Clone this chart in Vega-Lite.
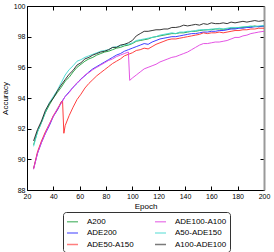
{
  "$schema": "https://vega.github.io/schema/vega-lite/v6.json",
  "width": 237,
  "height": 184,
  "autosize": "none",
  "padding": {"left": 27, "top": 6, "right": 10, "bottom": 62},
  "config": {
    "view": {"stroke": null},
    "font": "Liberation Sans",
    "axis": {"labelFont": "Liberation Sans", "titleFont": "Liberation Sans", "labelFontSize": 7, "titleFontSize": 8, "titleFontWeight": "normal", "labelColor": "#000", "titleColor": "#000", "domainColor": "#000", "tickColor": "#000", "grid": false, "tickSize": -4, "labelPadding": 6, "labelFlush": false, "labelOverlap": false}
  },
  "data": {"values": [
    {"series":"A200","epoch":25,"acc":90.95},{"series":"A200","epoch":28,"acc":91.8},{"series":"A200","epoch":31,"acc":92.4},{"series":"A200","epoch":34,"acc":93.05},{"series":"A200","epoch":37,"acc":93.55},{"series":"A200","epoch":40,"acc":94.0},{"series":"A200","epoch":43,"acc":94.35},{"series":"A200","epoch":46,"acc":94.7},{"series":"A200","epoch":49,"acc":95.1},{"series":"A200","epoch":52,"acc":95.35},{"series":"A200","epoch":55,"acc":95.7},{"series":"A200","epoch":58,"acc":96.0},{"series":"A200","epoch":61,"acc":96.2},{"series":"A200","epoch":64,"acc":96.4},{"series":"A200","epoch":67,"acc":96.55},{"series":"A200","epoch":70,"acc":96.65},{"series":"A200","epoch":73,"acc":96.8},{"series":"A200","epoch":76,"acc":96.9},{"series":"A200","epoch":79,"acc":97.0},{"series":"A200","epoch":82,"acc":97.05},{"series":"A200","epoch":85,"acc":97.15},{"series":"A200","epoch":88,"acc":97.25},{"series":"A200","epoch":91,"acc":97.3},{"series":"A200","epoch":94,"acc":97.4},{"series":"A200","epoch":97,"acc":97.45},{"series":"A200","epoch":100,"acc":97.55},{"series":"A200","epoch":103,"acc":97.7},{"series":"A200","epoch":106,"acc":97.75},{"series":"A200","epoch":109,"acc":97.8},{"series":"A200","epoch":112,"acc":97.85},{"series":"A200","epoch":115,"acc":97.95},{"series":"A200","epoch":118,"acc":98.0},{"series":"A200","epoch":121,"acc":98.05},{"series":"A200","epoch":124,"acc":98.1},{"series":"A200","epoch":127,"acc":98.15},{"series":"A200","epoch":130,"acc":98.2},{"series":"A200","epoch":133,"acc":98.2},{"series":"A200","epoch":136,"acc":98.25},{"series":"A200","epoch":139,"acc":98.25},{"series":"A200","epoch":142,"acc":98.3},{"series":"A200","epoch":145,"acc":98.35},{"series":"A200","epoch":148,"acc":98.35},{"series":"A200","epoch":151,"acc":98.4},{"series":"A200","epoch":154,"acc":98.43},{"series":"A200","epoch":157,"acc":98.45},{"series":"A200","epoch":160,"acc":98.45},{"series":"A200","epoch":163,"acc":98.5},{"series":"A200","epoch":166,"acc":98.5},{"series":"A200","epoch":169,"acc":98.48},{"series":"A200","epoch":172,"acc":98.5},{"series":"A200","epoch":175,"acc":98.55},{"series":"A200","epoch":178,"acc":98.55},{"series":"A200","epoch":181,"acc":98.6},{"series":"A200","epoch":184,"acc":98.6},{"series":"A200","epoch":187,"acc":98.65},{"series":"A200","epoch":190,"acc":98.65},{"series":"A200","epoch":193,"acc":98.7},{"series":"A200","epoch":196,"acc":98.65},{"series":"A200","epoch":200,"acc":98.7},
    {"series":"ADE200","epoch":25,"acc":89.4},{"series":"ADE200","epoch":28,"acc":90.4},{"series":"ADE200","epoch":31,"acc":91.1},{"series":"ADE200","epoch":34,"acc":91.7},{"series":"ADE200","epoch":37,"acc":92.2},{"series":"ADE200","epoch":40,"acc":92.8},{"series":"ADE200","epoch":43,"acc":93.2},{"series":"ADE200","epoch":46,"acc":93.7},{"series":"ADE200","epoch":49,"acc":94.1},{"series":"ADE200","epoch":52,"acc":94.4},{"series":"ADE200","epoch":55,"acc":94.7},{"series":"ADE200","epoch":58,"acc":94.95},{"series":"ADE200","epoch":61,"acc":95.25},{"series":"ADE200","epoch":64,"acc":95.45},{"series":"ADE200","epoch":67,"acc":95.7},{"series":"ADE200","epoch":70,"acc":95.9},{"series":"ADE200","epoch":73,"acc":96.05},{"series":"ADE200","epoch":76,"acc":96.2},{"series":"ADE200","epoch":79,"acc":96.35},{"series":"ADE200","epoch":82,"acc":96.5},{"series":"ADE200","epoch":85,"acc":96.65},{"series":"ADE200","epoch":88,"acc":96.8},{"series":"ADE200","epoch":91,"acc":96.9},{"series":"ADE200","epoch":94,"acc":97.05},{"series":"ADE200","epoch":97,"acc":97.15},{"series":"ADE200","epoch":100,"acc":97.25},{"series":"ADE200","epoch":103,"acc":97.35},{"series":"ADE200","epoch":106,"acc":97.45},{"series":"ADE200","epoch":109,"acc":97.55},{"series":"ADE200","epoch":112,"acc":97.5},{"series":"ADE200","epoch":115,"acc":97.65},{"series":"ADE200","epoch":118,"acc":97.75},{"series":"ADE200","epoch":121,"acc":97.85},{"series":"ADE200","epoch":124,"acc":97.9},{"series":"ADE200","epoch":127,"acc":97.95},{"series":"ADE200","epoch":130,"acc":98.0},{"series":"ADE200","epoch":133,"acc":98.0},{"series":"ADE200","epoch":136,"acc":98.05},{"series":"ADE200","epoch":139,"acc":98.1},{"series":"ADE200","epoch":142,"acc":98.15},{"series":"ADE200","epoch":145,"acc":98.2},{"series":"ADE200","epoch":148,"acc":98.2},{"series":"ADE200","epoch":151,"acc":98.25},{"series":"ADE200","epoch":154,"acc":98.3},{"series":"ADE200","epoch":157,"acc":98.3},{"series":"ADE200","epoch":160,"acc":98.35},{"series":"ADE200","epoch":163,"acc":98.35},{"series":"ADE200","epoch":166,"acc":98.4},{"series":"ADE200","epoch":169,"acc":98.4},{"series":"ADE200","epoch":172,"acc":98.45},{"series":"ADE200","epoch":175,"acc":98.5},{"series":"ADE200","epoch":178,"acc":98.5},{"series":"ADE200","epoch":181,"acc":98.55},{"series":"ADE200","epoch":184,"acc":98.55},{"series":"ADE200","epoch":187,"acc":98.6},{"series":"ADE200","epoch":190,"acc":98.6},{"series":"ADE200","epoch":193,"acc":98.65},{"series":"ADE200","epoch":196,"acc":98.65},{"series":"ADE200","epoch":200,"acc":98.7},
    {"series":"ADE50-A150","epoch":25,"acc":89.4},{"series":"ADE50-A150","epoch":28,"acc":90.5},{"series":"ADE50-A150","epoch":31,"acc":91.2},{"series":"ADE50-A150","epoch":34,"acc":91.8},{"series":"ADE50-A150","epoch":37,"acc":92.3},{"series":"ADE50-A150","epoch":40,"acc":92.85},{"series":"ADE50-A150","epoch":43,"acc":93.25},{"series":"ADE50-A150","epoch":46,"acc":93.75},{"series":"ADE50-A150","epoch":47,"acc":93.8},{"series":"ADE50-A150","epoch":48,"acc":91.7},{"series":"ADE50-A150","epoch":49,"acc":92.2},{"series":"ADE50-A150","epoch":52,"acc":92.85},{"series":"ADE50-A150","epoch":55,"acc":93.4},{"series":"ADE50-A150","epoch":58,"acc":93.9},{"series":"ADE50-A150","epoch":61,"acc":94.25},{"series":"ADE50-A150","epoch":64,"acc":94.65},{"series":"ADE50-A150","epoch":67,"acc":94.95},{"series":"ADE50-A150","epoch":70,"acc":95.2},{"series":"ADE50-A150","epoch":73,"acc":95.45},{"series":"ADE50-A150","epoch":76,"acc":95.65},{"series":"ADE50-A150","epoch":79,"acc":95.85},{"series":"ADE50-A150","epoch":82,"acc":96.05},{"series":"ADE50-A150","epoch":85,"acc":96.25},{"series":"ADE50-A150","epoch":88,"acc":96.4},{"series":"ADE50-A150","epoch":91,"acc":96.55},{"series":"ADE50-A150","epoch":94,"acc":96.75},{"series":"ADE50-A150","epoch":97,"acc":96.85},{"series":"ADE50-A150","epoch":100,"acc":96.95},{"series":"ADE50-A150","epoch":103,"acc":97.1},{"series":"ADE50-A150","epoch":106,"acc":97.15},{"series":"ADE50-A150","epoch":109,"acc":97.25},{"series":"ADE50-A150","epoch":112,"acc":97.2},{"series":"ADE50-A150","epoch":115,"acc":97.35},{"series":"ADE50-A150","epoch":118,"acc":97.5},{"series":"ADE50-A150","epoch":121,"acc":97.6},{"series":"ADE50-A150","epoch":124,"acc":97.7},{"series":"ADE50-A150","epoch":127,"acc":97.8},{"series":"ADE50-A150","epoch":130,"acc":97.85},{"series":"ADE50-A150","epoch":133,"acc":97.85},{"series":"ADE50-A150","epoch":136,"acc":97.9},{"series":"ADE50-A150","epoch":139,"acc":97.95},{"series":"ADE50-A150","epoch":142,"acc":98.0},{"series":"ADE50-A150","epoch":145,"acc":98.05},{"series":"ADE50-A150","epoch":148,"acc":98.1},{"series":"ADE50-A150","epoch":151,"acc":98.15},{"series":"ADE50-A150","epoch":154,"acc":98.25},{"series":"ADE50-A150","epoch":157,"acc":98.2},{"series":"ADE50-A150","epoch":160,"acc":98.25},{"series":"ADE50-A150","epoch":163,"acc":98.25},{"series":"ADE50-A150","epoch":166,"acc":98.3},{"series":"ADE50-A150","epoch":169,"acc":98.25},{"series":"ADE50-A150","epoch":172,"acc":98.3},{"series":"ADE50-A150","epoch":175,"acc":98.35},{"series":"ADE50-A150","epoch":178,"acc":98.4},{"series":"ADE50-A150","epoch":181,"acc":98.4},{"series":"ADE50-A150","epoch":184,"acc":98.45},{"series":"ADE50-A150","epoch":187,"acc":98.45},{"series":"ADE50-A150","epoch":190,"acc":98.5},{"series":"ADE50-A150","epoch":193,"acc":98.5},{"series":"ADE50-A150","epoch":196,"acc":98.55},{"series":"ADE50-A150","epoch":200,"acc":98.55},
    {"series":"ADE100-A100","epoch":25,"acc":89.35},{"series":"ADE100-A100","epoch":28,"acc":90.4},{"series":"ADE100-A100","epoch":31,"acc":91.1},{"series":"ADE100-A100","epoch":34,"acc":91.7},{"series":"ADE100-A100","epoch":37,"acc":92.3},{"series":"ADE100-A100","epoch":40,"acc":92.8},{"series":"ADE100-A100","epoch":43,"acc":93.3},{"series":"ADE100-A100","epoch":46,"acc":93.65},{"series":"ADE100-A100","epoch":49,"acc":94.1},{"series":"ADE100-A100","epoch":52,"acc":94.35},{"series":"ADE100-A100","epoch":55,"acc":94.7},{"series":"ADE100-A100","epoch":58,"acc":95.0},{"series":"ADE100-A100","epoch":61,"acc":95.2},{"series":"ADE100-A100","epoch":64,"acc":95.5},{"series":"ADE100-A100","epoch":67,"acc":95.65},{"series":"ADE100-A100","epoch":70,"acc":95.85},{"series":"ADE100-A100","epoch":73,"acc":96.0},{"series":"ADE100-A100","epoch":76,"acc":96.15},{"series":"ADE100-A100","epoch":79,"acc":96.3},{"series":"ADE100-A100","epoch":82,"acc":96.45},{"series":"ADE100-A100","epoch":85,"acc":96.55},{"series":"ADE100-A100","epoch":88,"acc":96.7},{"series":"ADE100-A100","epoch":91,"acc":96.8},{"series":"ADE100-A100","epoch":94,"acc":96.9},{"series":"ADE100-A100","epoch":97,"acc":97.0},{"series":"ADE100-A100","epoch":98,"acc":95.15},{"series":"ADE100-A100","epoch":100,"acc":95.3},{"series":"ADE100-A100","epoch":103,"acc":95.5},{"series":"ADE100-A100","epoch":106,"acc":95.7},{"series":"ADE100-A100","epoch":109,"acc":95.9},{"series":"ADE100-A100","epoch":112,"acc":96.0},{"series":"ADE100-A100","epoch":115,"acc":96.1},{"series":"ADE100-A100","epoch":118,"acc":96.2},{"series":"ADE100-A100","epoch":121,"acc":96.35},{"series":"ADE100-A100","epoch":124,"acc":96.45},{"series":"ADE100-A100","epoch":127,"acc":96.55},{"series":"ADE100-A100","epoch":130,"acc":96.65},{"series":"ADE100-A100","epoch":133,"acc":96.7},{"series":"ADE100-A100","epoch":136,"acc":96.8},{"series":"ADE100-A100","epoch":139,"acc":96.9},{"series":"ADE100-A100","epoch":142,"acc":97.0},{"series":"ADE100-A100","epoch":145,"acc":97.15},{"series":"ADE100-A100","epoch":148,"acc":97.3},{"series":"ADE100-A100","epoch":151,"acc":97.45},{"series":"ADE100-A100","epoch":154,"acc":97.55},{"series":"ADE100-A100","epoch":157,"acc":97.55},{"series":"ADE100-A100","epoch":160,"acc":97.6},{"series":"ADE100-A100","epoch":163,"acc":97.65},{"series":"ADE100-A100","epoch":166,"acc":97.65},{"series":"ADE100-A100","epoch":169,"acc":97.7},{"series":"ADE100-A100","epoch":172,"acc":97.75},{"series":"ADE100-A100","epoch":175,"acc":97.85},{"series":"ADE100-A100","epoch":178,"acc":97.95},{"series":"ADE100-A100","epoch":181,"acc":97.95},{"series":"ADE100-A100","epoch":184,"acc":98.05},{"series":"ADE100-A100","epoch":187,"acc":98.1},{"series":"ADE100-A100","epoch":190,"acc":98.2},{"series":"ADE100-A100","epoch":193,"acc":98.25},{"series":"ADE100-A100","epoch":196,"acc":98.3},{"series":"ADE100-A100","epoch":200,"acc":98.35},
    {"series":"A50-ADE150","epoch":25,"acc":90.85},{"series":"A50-ADE150","epoch":28,"acc":91.8},{"series":"A50-ADE150","epoch":31,"acc":92.4},{"series":"A50-ADE150","epoch":34,"acc":93.1},{"series":"A50-ADE150","epoch":37,"acc":93.7},{"series":"A50-ADE150","epoch":40,"acc":94.1},{"series":"A50-ADE150","epoch":43,"acc":94.5},{"series":"A50-ADE150","epoch":46,"acc":95.0},{"series":"A50-ADE150","epoch":49,"acc":95.5},{"series":"A50-ADE150","epoch":52,"acc":95.85},{"series":"A50-ADE150","epoch":55,"acc":96.1},{"series":"A50-ADE150","epoch":58,"acc":96.4},{"series":"A50-ADE150","epoch":61,"acc":96.5},{"series":"A50-ADE150","epoch":64,"acc":96.65},{"series":"A50-ADE150","epoch":67,"acc":96.75},{"series":"A50-ADE150","epoch":70,"acc":96.85},{"series":"A50-ADE150","epoch":73,"acc":96.95},{"series":"A50-ADE150","epoch":76,"acc":97.05},{"series":"A50-ADE150","epoch":79,"acc":97.1},{"series":"A50-ADE150","epoch":82,"acc":97.15},{"series":"A50-ADE150","epoch":85,"acc":97.3},{"series":"A50-ADE150","epoch":88,"acc":97.35},{"series":"A50-ADE150","epoch":91,"acc":97.4},{"series":"A50-ADE150","epoch":94,"acc":97.5},{"series":"A50-ADE150","epoch":97,"acc":97.5},{"series":"A50-ADE150","epoch":100,"acc":97.6},{"series":"A50-ADE150","epoch":103,"acc":97.75},{"series":"A50-ADE150","epoch":106,"acc":97.8},{"series":"A50-ADE150","epoch":109,"acc":97.85},{"series":"A50-ADE150","epoch":112,"acc":97.9},{"series":"A50-ADE150","epoch":115,"acc":97.95},{"series":"A50-ADE150","epoch":118,"acc":98.0},{"series":"A50-ADE150","epoch":121,"acc":98.1},{"series":"A50-ADE150","epoch":124,"acc":98.15},{"series":"A50-ADE150","epoch":127,"acc":98.2},{"series":"A50-ADE150","epoch":130,"acc":98.25},{"series":"A50-ADE150","epoch":133,"acc":98.2},{"series":"A50-ADE150","epoch":136,"acc":98.3},{"series":"A50-ADE150","epoch":139,"acc":98.3},{"series":"A50-ADE150","epoch":142,"acc":98.35},{"series":"A50-ADE150","epoch":145,"acc":98.35},{"series":"A50-ADE150","epoch":148,"acc":98.4},{"series":"A50-ADE150","epoch":151,"acc":98.45},{"series":"A50-ADE150","epoch":154,"acc":98.45},{"series":"A50-ADE150","epoch":157,"acc":98.45},{"series":"A50-ADE150","epoch":160,"acc":98.5},{"series":"A50-ADE150","epoch":163,"acc":98.5},{"series":"A50-ADE150","epoch":166,"acc":98.55},{"series":"A50-ADE150","epoch":169,"acc":98.5},{"series":"A50-ADE150","epoch":172,"acc":98.55},{"series":"A50-ADE150","epoch":175,"acc":98.6},{"series":"A50-ADE150","epoch":178,"acc":98.6},{"series":"A50-ADE150","epoch":181,"acc":98.6},{"series":"A50-ADE150","epoch":184,"acc":98.65},{"series":"A50-ADE150","epoch":187,"acc":98.65},{"series":"A50-ADE150","epoch":190,"acc":98.7},{"series":"A50-ADE150","epoch":193,"acc":98.65},{"series":"A50-ADE150","epoch":196,"acc":98.7},{"series":"A50-ADE150","epoch":200,"acc":98.72},
    {"series":"A100-ADE100","epoch":25,"acc":91.2},{"series":"A100-ADE100","epoch":28,"acc":91.95},{"series":"A100-ADE100","epoch":31,"acc":92.5},{"series":"A100-ADE100","epoch":34,"acc":93.2},{"series":"A100-ADE100","epoch":37,"acc":93.65},{"series":"A100-ADE100","epoch":40,"acc":94.0},{"series":"A100-ADE100","epoch":43,"acc":94.45},{"series":"A100-ADE100","epoch":46,"acc":94.85},{"series":"A100-ADE100","epoch":49,"acc":95.2},{"series":"A100-ADE100","epoch":52,"acc":95.55},{"series":"A100-ADE100","epoch":55,"acc":95.8},{"series":"A100-ADE100","epoch":58,"acc":96.15},{"series":"A100-ADE100","epoch":61,"acc":96.3},{"series":"A100-ADE100","epoch":64,"acc":96.55},{"series":"A100-ADE100","epoch":67,"acc":96.65},{"series":"A100-ADE100","epoch":70,"acc":96.8},{"series":"A100-ADE100","epoch":73,"acc":96.9},{"series":"A100-ADE100","epoch":76,"acc":97.0},{"series":"A100-ADE100","epoch":79,"acc":97.05},{"series":"A100-ADE100","epoch":82,"acc":97.15},{"series":"A100-ADE100","epoch":85,"acc":97.3},{"series":"A100-ADE100","epoch":88,"acc":97.3},{"series":"A100-ADE100","epoch":91,"acc":97.45},{"series":"A100-ADE100","epoch":94,"acc":97.5},{"series":"A100-ADE100","epoch":97,"acc":97.6},{"series":"A100-ADE100","epoch":100,"acc":97.75},{"series":"A100-ADE100","epoch":103,"acc":98.05},{"series":"A100-ADE100","epoch":106,"acc":98.2},{"series":"A100-ADE100","epoch":109,"acc":98.35},{"series":"A100-ADE100","epoch":112,"acc":98.35},{"series":"A100-ADE100","epoch":115,"acc":98.4},{"series":"A100-ADE100","epoch":118,"acc":98.45},{"series":"A100-ADE100","epoch":121,"acc":98.45},{"series":"A100-ADE100","epoch":124,"acc":98.5},{"series":"A100-ADE100","epoch":127,"acc":98.5},{"series":"A100-ADE100","epoch":130,"acc":98.6},{"series":"A100-ADE100","epoch":133,"acc":98.6},{"series":"A100-ADE100","epoch":136,"acc":98.65},{"series":"A100-ADE100","epoch":139,"acc":98.75},{"series":"A100-ADE100","epoch":142,"acc":98.7},{"series":"A100-ADE100","epoch":145,"acc":98.75},{"series":"A100-ADE100","epoch":148,"acc":98.8},{"series":"A100-ADE100","epoch":151,"acc":98.75},{"series":"A100-ADE100","epoch":154,"acc":98.85},{"series":"A100-ADE100","epoch":157,"acc":98.8},{"series":"A100-ADE100","epoch":160,"acc":98.9},{"series":"A100-ADE100","epoch":163,"acc":98.85},{"series":"A100-ADE100","epoch":166,"acc":98.85},{"series":"A100-ADE100","epoch":169,"acc":98.9},{"series":"A100-ADE100","epoch":172,"acc":98.85},{"series":"A100-ADE100","epoch":175,"acc":98.95},{"series":"A100-ADE100","epoch":178,"acc":98.9},{"series":"A100-ADE100","epoch":181,"acc":98.95},{"series":"A100-ADE100","epoch":184,"acc":99.0},{"series":"A100-ADE100","epoch":187,"acc":98.95},{"series":"A100-ADE100","epoch":190,"acc":99.0},{"series":"A100-ADE100","epoch":193,"acc":99.05},{"series":"A100-ADE100","epoch":196,"acc":99.0},{"series":"A100-ADE100","epoch":200,"acc":99.05}
  ]},
  "layer": [
    {
      "mark": {"type": "line", "strokeWidth": 1, "opacity": 0.9},
      "encoding": {
        "x": {"field": "epoch", "type": "quantitative", "scale": {"domain": [20, 200], "nice": false}, "axis": {"orient": "bottom", "values": [20, 40, 60, 80, 100, 120, 140, 160, 180, 200], "title": "Epoch", "titlePadding": 3}},
        "y": {"field": "acc", "type": "quantitative", "scale": {"domain": [88, 100], "nice": false, "zero": false}, "axis": {"orient": "left", "values": [88, 90, 92, 94, 96, 98, 100], "title": "Accuracy", "titlePadding": 4}},
        "color": {"field": "series", "type": "nominal",
          "scale": {"domain": ["A200", "ADE200", "ADE50-A150", "ADE100-A100", "A50-ADE150", "A100-ADE100"], "range": ["#1a9e3a", "#2a2aff", "#ff2a2a", "#e040e0", "#40d8d0", "#222222"]},
          "legend": {"title": null, "orient": "none", "legendX": 36, "legendY": 206, "columns": 2, "symbolType": "stroke", "symbolSize": 121, "symbolStrokeWidth": 1.5, "symbolOpacity": 0.6, "labelFont": "Liberation Sans", "labelFontSize": 8, "labelColor": "#000", "labelOffset": 8, "columnPadding": 18, "rowPadding": 0.5, "padding": 3, "strokeColor": "#333", "cornerRadius": 3, "fillColor": "#ffffff"}
        },
        "order": {"field": "epoch", "type": "quantitative"}
      }
    },
    {
      "mark": {"type": "line", "opacity": 0},
      "encoding": {
        "x": {"field": "epoch", "type": "quantitative", "scale": {"domain": [20, 200], "nice": false}, "axis": {"orient": "top", "values": [20, 40, 60, 80, 100, 120, 140, 160, 180, 200], "labels": false, "title": null}},
        "y": {"field": "acc", "type": "quantitative", "scale": {"domain": [88, 100], "nice": false, "zero": false}, "axis": {"orient": "right", "values": [88, 90, 92, 94, 96, 98, 100], "labels": false, "title": null, "domainColor": "#999", "domainWidth": 2}},
        "detail": {"field": "series", "type": "nominal"}
      }
    }
  ],
  "resolve": {"axis": {"x": "independent", "y": "independent"}}
}
